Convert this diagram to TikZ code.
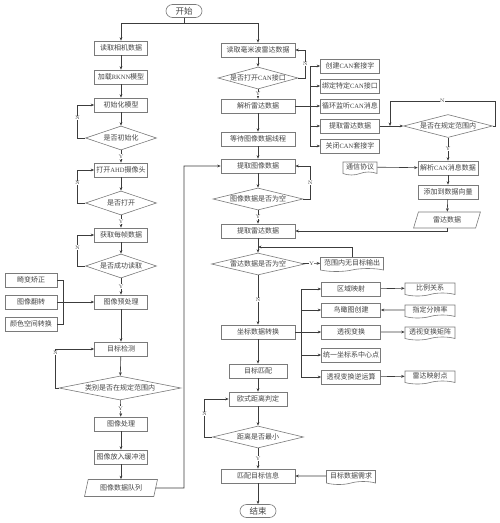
\documentclass[tikz,border=0pt]{standalone}
\usepackage{fontspec}
\newfontfamily\zhfont{Noto Sans CJK SC}
\newfontfamily\enfont{Liberation Serif}
\usetikzlibrary{shapes.geometric,shapes.misc,shapes.symbols,arrows.meta,calc}
\definecolor{lin}{HTML}{3C3C3C}
\definecolor{bord}{HTML}{7A7A7A}
\definecolor{txt}{HTML}{444444}
\newcommand\zhsize{\zhfont\fontsize{7}{8}\selectfont}
\newcommand\zhbig{\zhfont\fontsize{8.5}{9}\selectfont}
\newcommand\en[1]{{\enfont\fontsize{6.5}{8}\selectfont #1}}
\tikzset{
 base/.style={font=\zhsize, text=txt, inner sep=0pt, line width=0.6pt, draw=bord},
 box/.style={base, rectangle, minimum height=14pt, minimum width=53pt},
 wbox/.style={box, minimum width=74pt},
 cbox/.style={box, minimum width=59pt},
 dia/.style={base, diamond, aspect=3.8, minimum height=22pt},
 term/.style={base, rounded rectangle, minimum width=36pt, minimum height=13pt, font=\zhbig},
 doc/.style={base, tape, tape bend top=none, tape bend height=3pt, minimum height=14pt},
 para/.style={base, trapezium, trapezium left angle=70, trapezium right angle=110, trapezium stretches=true, minimum height=16pt},
 ln/.style={draw=lin, line width=0.6pt},
 arr/.style={ln, -{Stealth[length=3.5pt,width=2.8pt]}},
 lbl/.style={font=\fontsize{5}{5}\selectfont, fill=white, inner sep=0.4pt, text=txt},
}
\begin{document}
\begin{tikzpicture}[x=1pt,y=-1pt]
\useasboundingbox[fill=white] (0,0) rectangle (500,523);
% ---------- start ----------
\node[term] (start) at (184,11) {开始};
\coordinate (split) at (184,23);
% ---------- left column ----------
\node[box] (cam) at (121,48) {读取相机数据};
\node[box] (rknn) at (121,77) {加载\en{RKNN}模型};
\node[box] (init) at (121,105) {初始化模型};
\node[dia, aspect=3, minimum width=71pt, minimum height=24pt] (d1) at (121,138) {是否初始化};
\node[box] (ahd) at (121,170) {打开\en{AHD}摄像头};
\node[dia, aspect=3, minimum width=71pt, minimum height=24pt] (d2) at (121,203) {是否打开};
\node[box] (frame) at (121,235) {获取每帧数据};
\node[dia, aspect=3, minimum width=71pt, minimum height=24pt] (d3) at (121,266) {是否成功读取};
\node[box] (pre) at (121,302) {图像预处理};
\node[box, minimum width=52pt] (jb) at (31,280) {畸变矫正};
\node[box, minimum width=52pt] (fz) at (31,302) {图像翻转};
\node[box, minimum width=52pt] (ys) at (31,324) {颜色空间转换};
\node[box] (det) at (121,349) {目标检测};
\node[dia, aspect=5, minimum width=122pt, minimum height=24pt] (d4) at (120,388) {类别是否在规定范围内};
\node[box] (proc) at (121,424) {图像处理};
\node[box] (buf) at (121,457) {图像放入缓冲池};
\node[para, minimum width=73pt, minimum height=17pt] (queue) at (121,488) {图像数据队列};
\coordinate (qturn) at (184,488);
% ---------- right column ----------
\node[wbox] (radar) at (258,50) {读取毫米波雷达数据};
\node[dia, aspect=3.6, minimum width=80pt] (dcan) at (258,78) {是否打开\en{CAN}接口};
\node[wbox] (parse) at (258,106) {解析雷达数据};
\node[wbox] (wait) at (258,139) {等待图像数据线程};
\node[wbox] (img) at (258,166) {提取图像数据};
\node[dia, aspect=4, minimum width=90pt] (dimg) at (258,199) {图像数据是否为空};
\node[wbox] (getr) at (258,231) {提取雷达数据};
\coordinate (j1) at (258,247);
\node[dia, aspect=4, minimum width=93pt] (drad) at (258,264) {雷达数据是否为空};
\node[doc, minimum width=63pt] (noobj) at (352,263) {范围内无目标输出};
\node[wbox] (coord) at (258,332) {坐标数据转换};
\node[box, minimum width=58pt] (match) at (258,371) {目标匹配};
\node[box, minimum width=58pt] (eu) at (258,399) {欧式距离判定};
\node[dia, aspect=4, minimum width=91pt] (dmin) at (258,437) {距离是否最小};
\node[wbox] (info) at (258,476) {匹配目标信息};
\node[doc, minimum width=49pt] (req) at (351,476) {目标数据需求};
\node[term] (end) at (258,511) {结束};
% ---------- CAN branch ----------
\coordinate (bus) at (310,106);
\node[cbox] (can1) at (350,66) {创建\en{CAN}套接字};
\node[cbox] (can2) at (350,86) {绑定特定\en{CAN}接口};
\node[cbox] (can3) at (350,106) {循环监听\en{CAN}消息};
\node[cbox] (can4) at (350,126) {提取雷达数据};
\node[cbox] (can5) at (350,146) {关闭\en{CAN}套接字};
\coordinate (jn) at (390,126);
\node[dia, aspect=3.9, minimum width=89pt, minimum height=23pt] (dr) at (448,126) {是否在规定范围内};
\node[box, minimum width=60pt] (cpar) at (448,168) {解析\en{CAN}消息数据};
\node[doc, minimum width=34pt, minimum height=13pt] (proto) at (360,167) {通信协议};
\node[box, minimum width=60pt] (addv) at (448,192) {添加到数据向量};
\node[para, minimum width=67pt] (rdata) at (447,220) {雷达数据};
% ---------- coordinate branch ----------
\coordinate (bus2) at (301,332);
\node[cbox] (m1) at (351,289) {区域映射};
\node[cbox] (m2) at (351,310) {鸟瞰图创建};
\node[cbox] (m3) at (351,332) {透视变换};
\node[cbox] (m4) at (351,355) {统一坐标系中心点};
\node[cbox] (m5) at (351,377) {透视变换逆运算};
\node[doc, minimum width=50pt, minimum height=13pt] (r1) at (430,288) {比例关系};
\node[doc, minimum width=50pt, minimum height=13pt] (r2) at (430,310) {指定分辨率};
\node[doc, minimum width=50pt, minimum height=13pt] (r3) at (430,332) {透视变换矩阵};
\node[doc, minimum width=50pt, minimum height=13pt] (r5) at (430,376) {雷达映射点};
% ---------- connectors: top ----------
\draw[ln] (start) -- (split);
\draw[arr] (split) -| (cam);
\draw[arr] (split) -| (radar);
% ---------- connectors: left ----------
\draw[arr] (cam) -- (rknn);
\draw[arr] (rknn) -- (init);
\draw[arr] (init) -- (d1);
\draw[arr] (d1) -- node[lbl]{Y} (ahd);
\draw[arr] (d1.west) -- ++(-7.5,0) |- node[lbl,pos=0.3]{N} (init.west);
\draw[arr] (ahd) -- (d2);
\draw[arr] (d2) -- node[lbl]{Y} (frame);
\draw[arr] (d2.west) -- ++(-7.5,0) |- node[lbl,pos=0.3]{N} (ahd.west);
\draw[arr] (frame) -- (d3);
\draw[arr] (d3) -- node[lbl]{Y} (pre);
\draw[arr] (d3.west) -- ++(-7.5,0) |- node[lbl,pos=0.3]{N} (frame.west);
\draw[ln] (jb.east) -- ++(6,0) |- (ys.east);
\draw[arr] (fz) -- (pre);
\draw[arr] (pre) -- (det);
\draw[arr] (det) -- (d4);
\draw[arr] (d4.west) -- ++(-3,0) |- node[lbl,pos=0.45]{N} (det.west);
\draw[arr] (d4) -- node[lbl]{Y} (proc);
\draw[arr] (proc) -- (buf);
\draw[arr] (buf) -- (queue);
\draw[arr] (queue.east) -- (qturn) |- (img.west);
% ---------- connectors: right ----------
\draw[arr] (radar) -- (dcan);
\draw[arr] (dcan.east) -- ++(7,0) |- node[lbl,pos=0.25]{N} (radar.east);
\draw[arr] (dcan) -- node[lbl]{Y} (parse);
\draw[arr] (parse) -- (wait);
\draw[arr] (wait) -- (img);
\draw[arr] (img) -- (dimg);
\draw[arr] (dimg.east) -- ++(7,0) |- node[lbl,pos=0.25]{N} (img.east);
\draw[arr] (dimg) -- node[lbl]{Y} (getr);
\draw[arr] (getr) -- (drad);
\draw[arr] (drad) -- node[lbl]{Y} (noobj);
\draw[arr] (noobj.north) |- (j1);
\draw[arr] (drad) -- node[lbl]{N} (coord);
\draw[arr] (coord) -- (match);
\draw[arr] (match) -- (eu);
\draw[arr] (eu) -- (dmin);
\draw[arr] (dmin.west) -- ++(-7.5,0) |- node[lbl,pos=0.3]{N} (eu.west);
\draw[arr] (dmin) -- node[lbl]{Y} (info);
\draw[arr] (req) -- (info);
\draw[arr] (info) -- (end);
% ---------- connectors: CAN ----------
\draw[ln] (parse.east) -- (bus);
\draw[arr] (bus) |- (can1.west);
\draw[arr] (bus) |- (can2.west);
\draw[arr] (bus) -- (can3.west);
\draw[arr] (bus) |- (can4.west);
\draw[arr] (bus) |- (can5.west);
\draw[arr] (can4) -- (dr);
\draw[arr] (dr.east) -- ++(2,0) -- ++(0,-25) -| node[lbl,pos=0.25]{N} (jn);
\draw[arr] (dr) -- node[lbl]{Y} (cpar);
\draw[arr] (proto) -- (cpar);
\draw[arr] (cpar) -- (addv);
\draw[arr] (addv) -- (rdata);
\draw[arr] (rdata.south) |- (getr.east);
% ---------- connectors: coordinate ----------
\draw[ln] (coord.east) -- (bus2);
\draw[arr] (bus2) |- (m1.west);
\draw[arr] (bus2) |- (m2.west);
\draw[arr] (bus2) -- (m3.west);
\draw[arr] (bus2) |- (m4.west);
\draw[arr] (bus2) |- (m5.west);
\draw[arr] (m1) -- (r1);
\draw[arr] (r2) -- (m2);
\draw[arr] (m3) -- (r3);
\draw[arr] (m5) -- (r5);
\end{tikzpicture}
\end{document}
